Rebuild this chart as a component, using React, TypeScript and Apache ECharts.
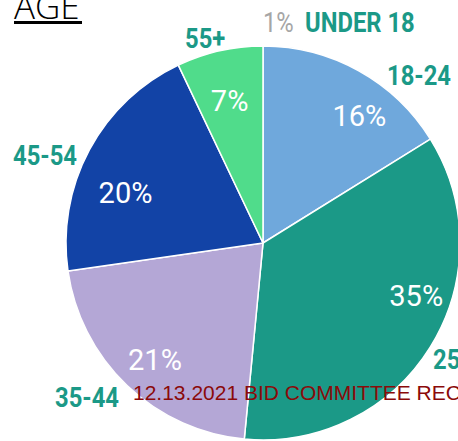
import React, { useEffect, useRef } from "react";
import * as echarts from "echarts";

const categories = ["18-24", "25-34", "35-44", "45-54", "55+"];
const values = [16, 35, 21, 20, 7];
const underCategory = "UNDER 18";
const underValue = 1;
const title = "AGE";
const footer = "12.13.2021 BID COMMITTEE RECOMMENDATION";

const colors = ["#6fa8dc", "#1b9987", "#b4a7d6", "#1243a6", "#50dc8b"];
const labelOffsets = [
  [47, -38],
  [67, -1],
  [-38, 44],
  [-48, -2],
  [-11, -43],
];
const catLabelPos = [
  [387, 75],
  [433, 359],
  [55, 397.5],
  [13, 155.5],
  [185, 38],
];

const FONT = 'Roboto, "Liberation Sans", sans-serif';
const TEAL = "#1b9987";
const SQUEEZE = 0.85;

export default function App() {
  const ref = useRef<HTMLDivElement>(null);
  useEffect(() => {
    document.body.style.margin = "0";
    const chart = echarts.init(ref.current!, null, { renderer: "svg" });
    const cx = 263, cy = 243, r = 197;
    const label = (text: string, x: number, y: number, font: string, fill: string) => ({
      type: "text",
      x,
      y,
      scaleX: SQUEEZE,
      style: { text, font, fill, align: "left", verticalAlign: "middle" },
    });
    const graphics: any[] = [
      {
        type: "text",
        x: 14,
        y: 5.5,
        style: { text: title, font: '300 35px "Open Sans", sans-serif', fill: "#000", verticalAlign: "middle" },
      },
      { type: "rect", shape: { x: 14, y: 21, width: 68, height: 3 }, style: { fill: "#000" } },
      label(underValue + "%", 263, 22, `28px ${FONT}`, "#a6a6a6"),
      label(underCategory, 305, 22, `bold 28px ${FONT}`, TEAL),
      ...categories.map((c, i) => label(c, catLabelPos[i][0], catLabelPos[i][1], `bold 28px ${FONT}`, TEAL)),
      {
        type: "text",
        x: 133,
        y: 392.5,
        z: 200,
        style: {
          text: footer,
          font: '21px "Liberation Sans", Arial, sans-serif',
          fill: "#8b0a0a",
          verticalAlign: "middle",
        },
      },
    ];
    chart.setOption({
      animation: false,
      graphic: graphics,
      series: [
        {
          type: "pie",
          center: [cx, cy],
          radius: [0, r],
          startAngle: 90,
          clockwise: true,
          silent: true,
          itemStyle: { borderColor: "#fff", borderWidth: 1.5 },
          label: {
            show: true,
            position: "inside",
            formatter: (p: any) => p.value + "%",
            color: "#fff",
            fontFamily: FONT,
            fontSize: 29,
          },
          labelLine: { show: false },
          labelLayout: (p: any) => ({ dx: labelOffsets[p.dataIndex][0], dy: labelOffsets[p.dataIndex][1] }),
          data: categories.map((c, i) => ({ name: c, value: values[i], itemStyle: { color: colors[i] } })),
        },
      ],
    });
    return () => chart.dispose();
  }, []);
  return <div ref={ref} style={{ width: 458, height: 441 }} />;
}
